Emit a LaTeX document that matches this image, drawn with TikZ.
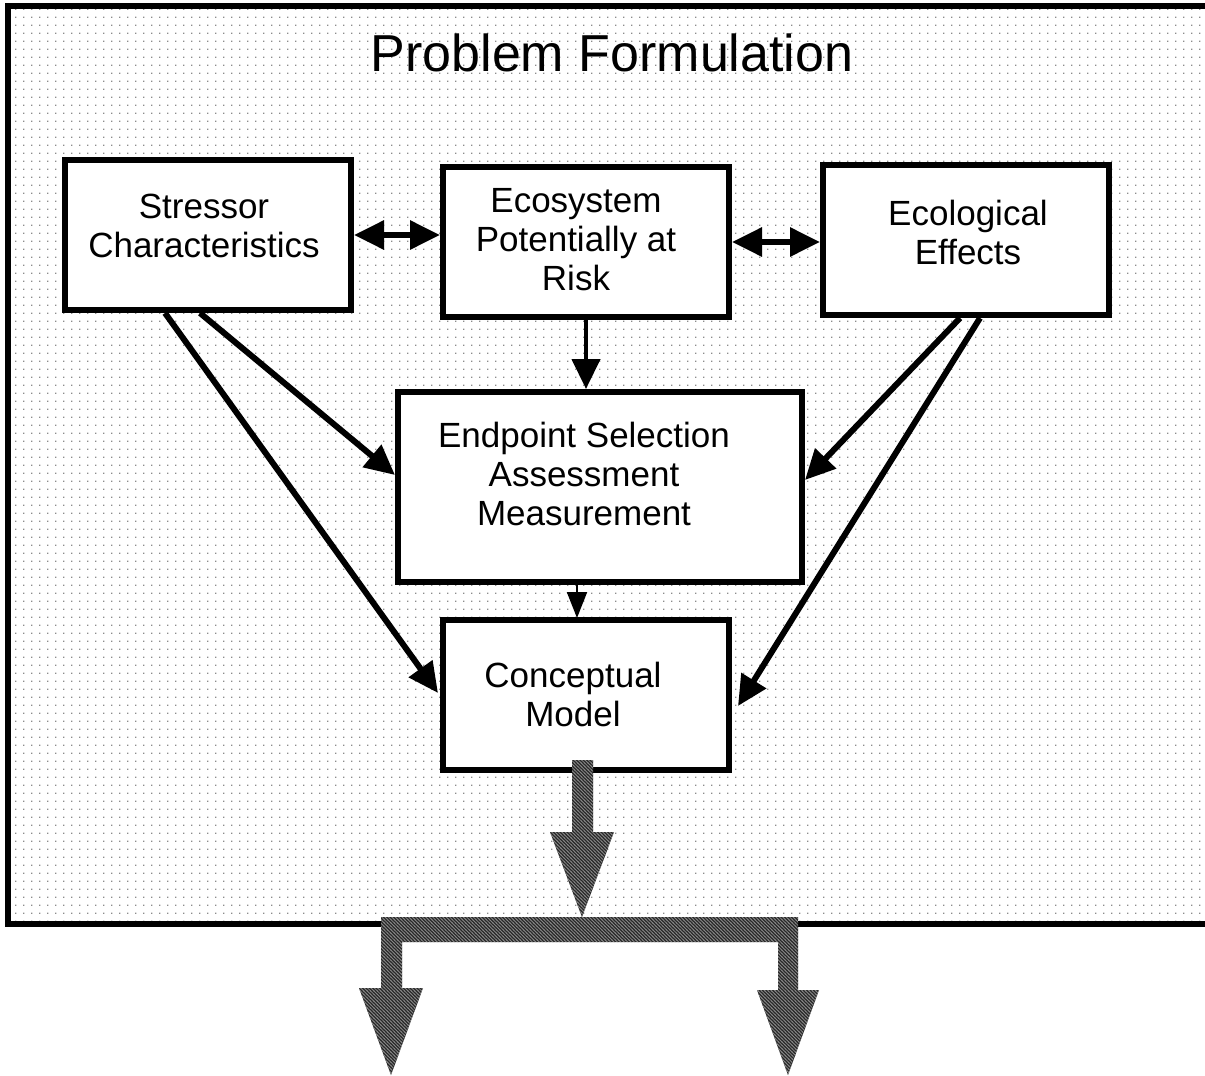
\documentclass[tikz,border=0pt]{standalone}
\usepackage{fontspec}
\setmainfont{Liberation Sans}
\usetikzlibrary{arrows.meta, positioning, calc, patterns, patterns.meta}
\definecolor{dotgray}{RGB}{140,140,140}
\definecolor{hatchdark}{RGB}{40,40,40}
\definecolor{hatchlight}{RGB}{135,135,135}

\tikzdeclarepattern{
  name=griddots,
  type=uncolored,
  bounding box={(0pt,0pt) and (3.85pt,3.85pt)},
  tile size={(3.85pt,3.85pt)},
  code={\pgfpathrectangle{\pgfpointorigin}{\pgfpoint{0.65pt}{0.65pt}}\pgfusepath{fill}}
}
\tikzdeclarepattern{
  name=finehatch,
  type=uncolored,
  bounding box={(-0.3pt,-0.3pt) and (2pt,2pt)},
  tile size={(1.7pt,1.7pt)},
  code={\pgfsetlinewidth{0.4pt}
        \pgfpathmoveto{\pgfpoint{-0.3pt}{2pt}}\pgfpathlineto{\pgfpoint{2pt}{-0.3pt}}
        \pgfusepath{stroke}}
}

\begin{document}
\begin{tikzpicture}[
  x=0.5pt, y=-0.5pt,
  font=\fontsize{17.5}{19.5}\selectfont,
  >={Triangle[length=15pt, width=14pt]},
  box/.style={rectangle, draw, line width=3pt, fill=white,
              minimum width=143pt, minimum height=75pt},
  bigbox/.style={box, minimum width=202pt, minimum height=95pt},
  boxtext/.style={align=center, inner sep=0pt},
  link/.style={->, line width=3pt},
  both/.style={<->, line width=3pt},
  hatched/.style={pattern=finehatch, pattern color=hatchlight,
                  preaction={fill=hatchdark}},
]
\useasboundingbox (0,0) rectangle (1205,1076);
\clip (0,0) rectangle (1205,1076);
\fill[white] (0,0) rectangle (1205,1076);

\fill[pattern=griddots, pattern color=dotgray] (8,6) rectangle (1215,924);
\draw[line width=3pt] (1215,6) -- (8,6) -- (8,924) -- (1215,924);

\node (title) at (612,53) {\fontsize{26}{31}\selectfont Problem Formulation};

\node[box]    (stressor)   at (208,235) {};
\node[box]    (ecosystem)  at (586,242) {};
\node[box]    (ecological) at (966,240) {};
\node[bigbox] (endpoint)   at (600,487) {};
\node[box]    (conceptual) at (586,695) {};

\node[boxtext] (stressortxt)   at (204,226) {Stressor\\Characteristics};
\node[boxtext] (ecosystemtxt)  at (576,240) {Ecosystem\\Potentially at\\Risk};
\node[boxtext] (ecologicaltxt) at (968,232) {Ecological\\Effects};
\node[boxtext] (endpointtxt)   at (584,474) {Endpoint Selection\\Assessment\\Measurement};
\node[boxtext] (conceptualtxt) at (573,694) {Conceptual\\Model};

\draw[both] (stressor.east) -- (stressor.east -| ecosystem.west);
\draw[both] (ecosystem.east) -- (ecosystem.east -| ecological.west);
\draw[->, line width=2.2pt] (ecosystem.south) -- (ecosystem.south |- endpoint.north);
\draw[->, line width=1pt, >={Triangle[length=13pt, width=10pt]}]
  ($(endpoint.south)+(-23,0)$) -- ($(endpoint.south -| conceptual.north)+(-9,33)$);

\draw[link] ($(stressor.south)+(-8,0)$) -- ($(endpoint.west)+(0,-12)$);
\draw[link] ($(stressor.south)+(-43,0)$) -- ($(conceptual.west)+(-2,-2)$);
\draw[link] ($(ecological.south)+(-6,0)$) -- ($(endpoint.east)+(0,-7)$);
\draw[link] ($(ecological.south)+(14,0)$) -- ($(conceptual.east)+(6,11)$);

\path[hatched] (572,760) -- (593,760) -- (593,832) -- (614,832) -- (582,917)
  -- (550,832) -- (572,832) -- cycle;
\path[hatched] (381,917) -- (798,917) -- (798,990) -- (819,990) -- (788,1075)
  -- (757,990) -- (778,990) -- (778,942) -- (402,942) -- (402,988)
  -- (423,988) -- (391,1075) -- (359,988) -- (381,988) -- cycle;
\end{tikzpicture}
\end{document}
